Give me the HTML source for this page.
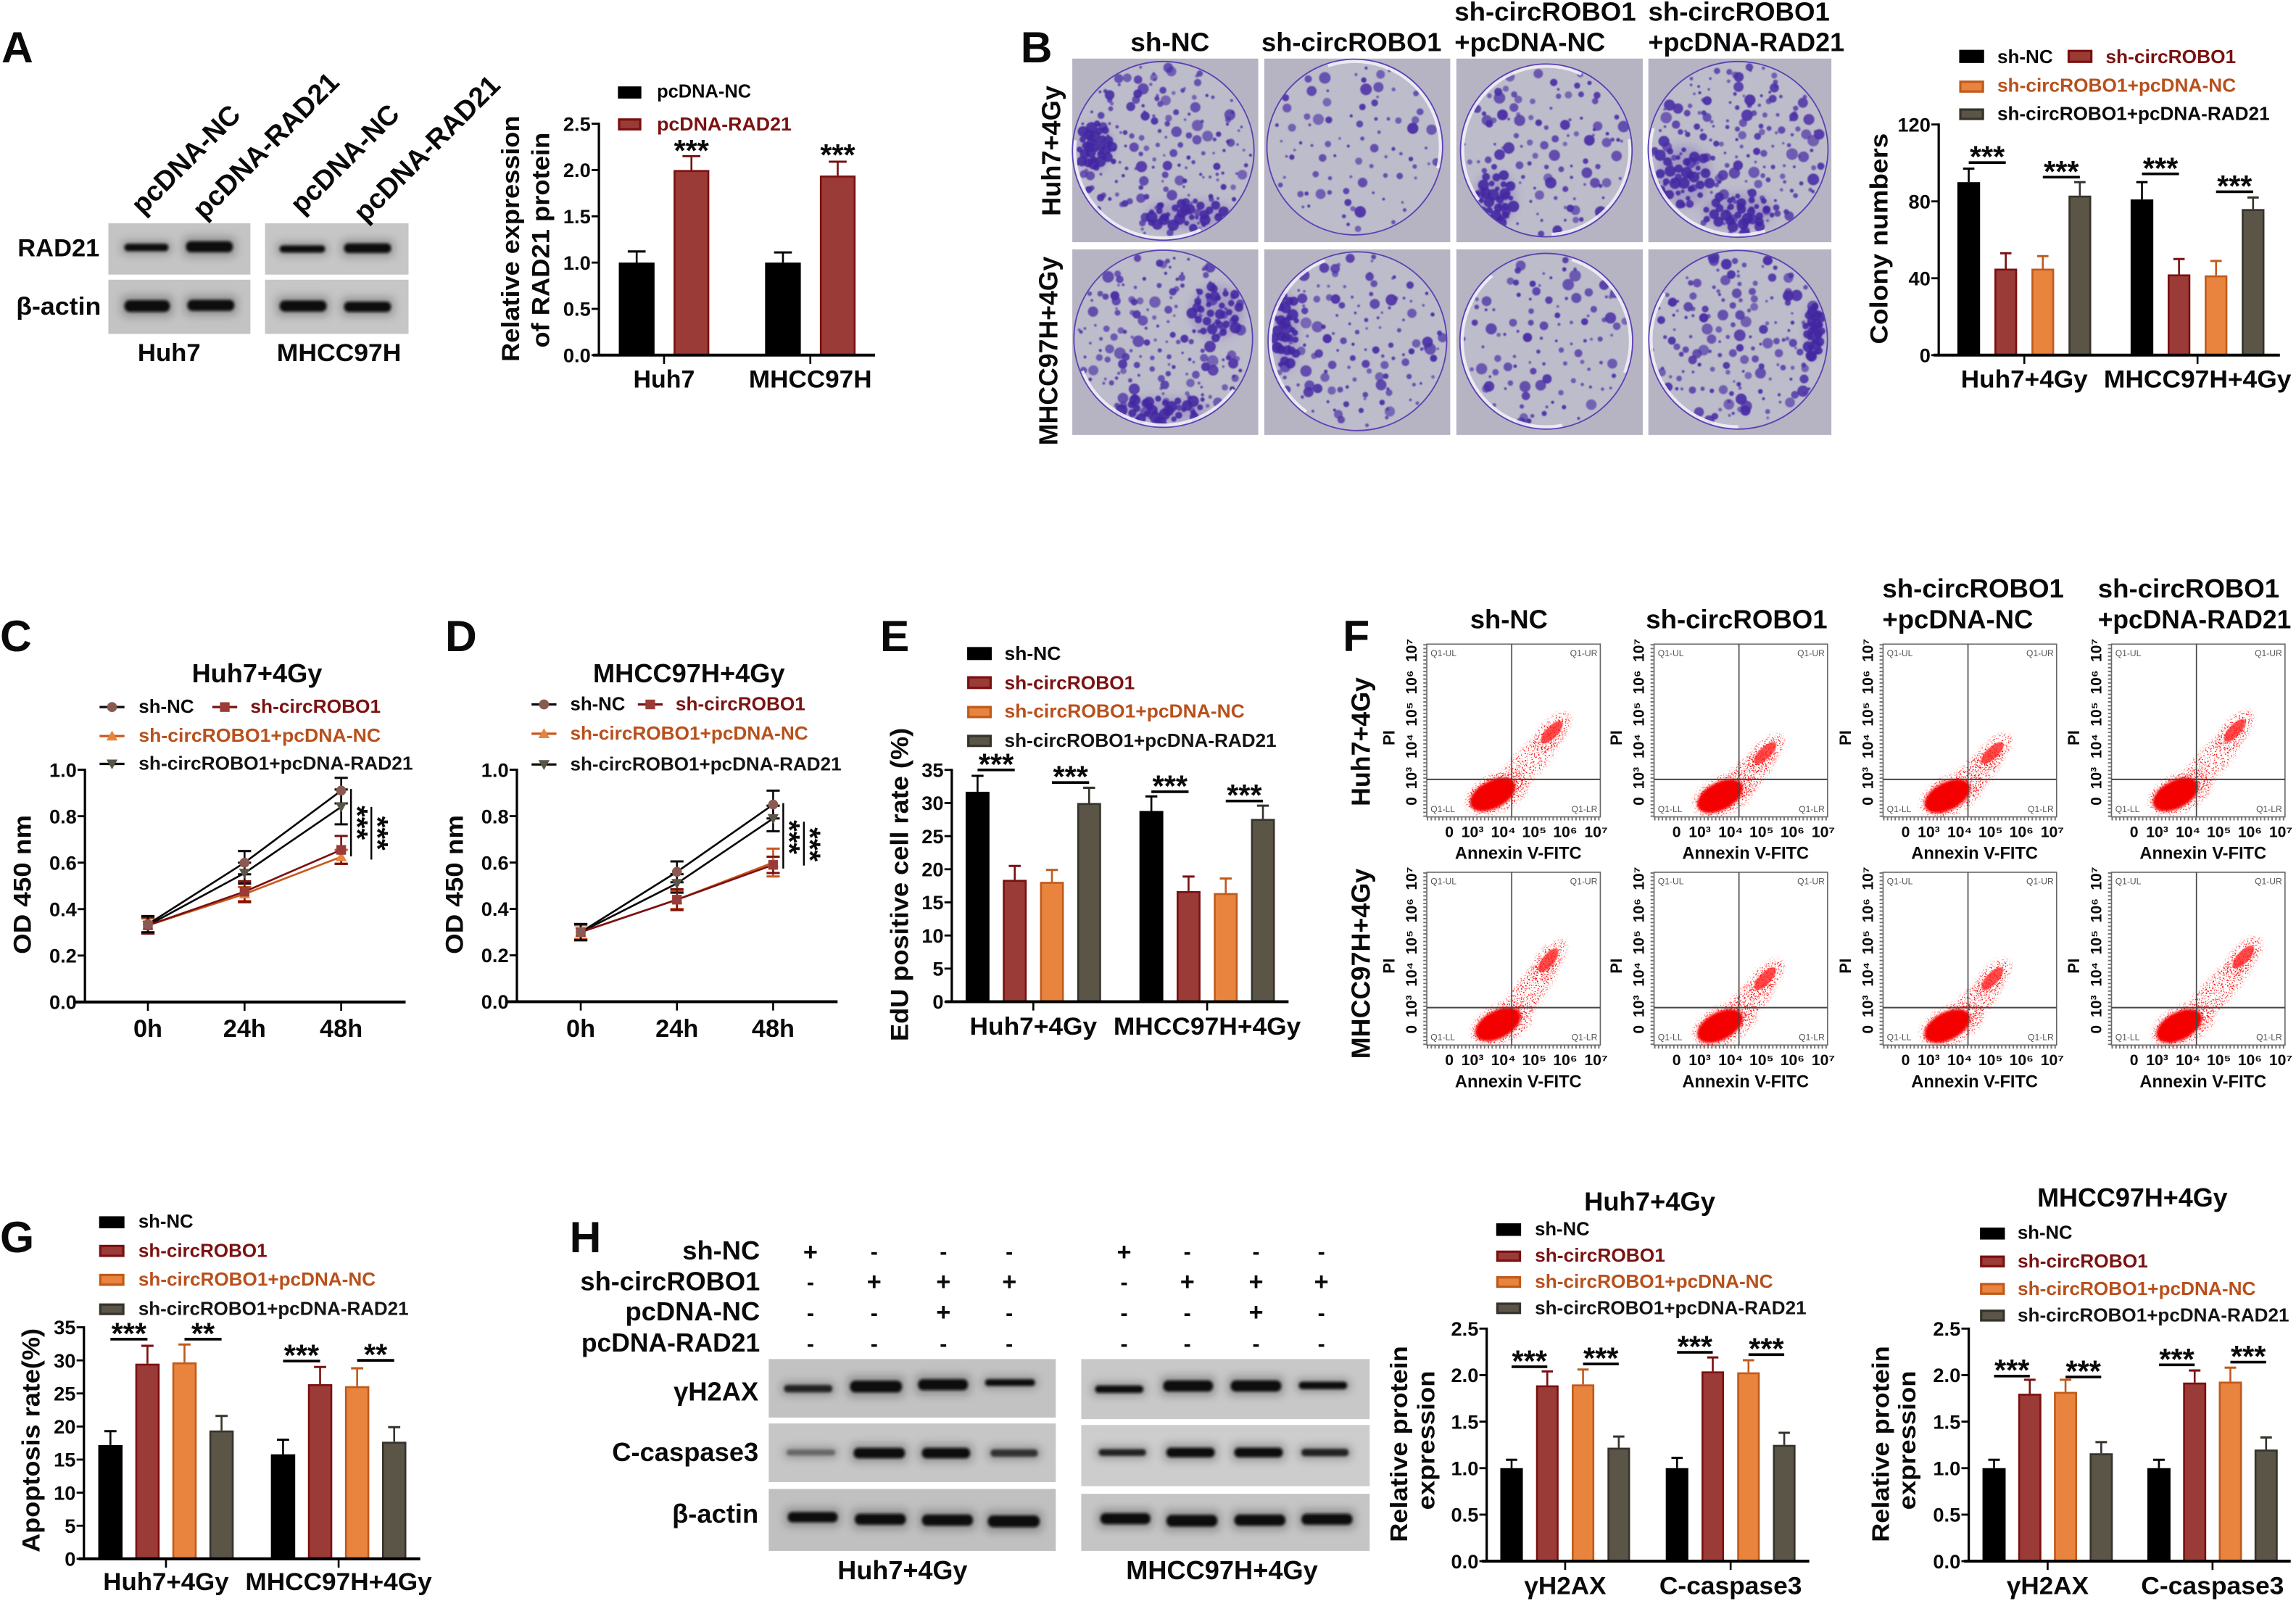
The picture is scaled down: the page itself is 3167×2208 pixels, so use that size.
<!DOCTYPE html>
<html lang="en">
<head>
<meta charset="utf-8">
<title>circROBO1 and RAD21 multi-panel figure</title>
<style>
html,body{margin:0;padding:0;background:#fff;width:3167px;height:2208px;overflow:hidden}
svg{display:block}
text{font-family:"Liberation Sans",Arial,"DejaVu Sans",sans-serif;font-weight:bold;fill:#0a0a0a}
.pl{font-size:30px}
.h18{font-size:18px}
.h17{font-size:17px}
</style>
</head>
<body>
<svg id="figure" xmlns="http://www.w3.org/2000/svg" width="3167" height="2208" viewBox="0 0 1568 1093.2">
<defs>
<filter id="soft" x="-30%" y="-60%" width="160%" height="220%"><feGaussianBlur stdDeviation="0.9"/></filter>
<filter id="halo" x="-30%" y="-150%" width="160%" height="400%"><feGaussianBlur stdDeviation="3"/></filter>
<filter id="tiny" x="-20%" y="-20%" width="140%" height="140%"><feGaussianBlur stdDeviation="0.35"/></filter>
<filter id="plateBlur" x="-30%" y="-30%" width="160%" height="160%"><feGaussianBlur stdDeviation="3"/></filter>
<filter id="speckle" x="-20%" y="-20%" width="140%" height="140%">
<feTurbulence type="fractalNoise" baseFrequency="1.1" numOctaves="1" seed="4" result="n"/>
<feColorMatrix in="n" type="matrix" values="0 0 0 0 0  0 0 0 0 0  0 0 0 0 0  0 0 0 14 -8.1" result="m"/>
<feGaussianBlur in="SourceGraphic" stdDeviation="1.5" result="s"/>
<feComposite in="s" in2="m" operator="in"/>
</filter>
</defs>

<g>
<text class="pl" x="1" y="42.5">A</text>
<text class="pl" x="697" y="42.5">B</text>
<text class="pl" x="0" y="444.5">C</text>
<text class="pl" x="304" y="444.5">D</text>
<text class="pl" x="601" y="444.5">E</text>
<text class="pl" x="917" y="444.5">F</text>
<text class="pl" x="0" y="855">G</text>
<text class="pl" x="389" y="855">H</text>
</g>

<g id="panelABlots"></g>
<g>
<text font-size="19" text-anchor="middle" transform="translate(131.4,113.4) rotate(-45)" textLength="96">pcDNA-NC</text>
<text font-size="19" text-anchor="middle" transform="translate(186,104) rotate(-45)" textLength="132">pcDNA-RAD21</text>
<text font-size="19" text-anchor="middle" transform="translate(240,113) rotate(-45)" textLength="96">pcDNA-NC</text>
<text font-size="19" text-anchor="middle" transform="translate(296,106) rotate(-45)" textLength="132">pcDNA-RAD21</text>
<text class="h17" x="12" y="175" textLength="56">RAD21</text>
<text class="h17" x="11" y="215" textLength="58">β-actin</text>
<text class="h17" x="94" y="246.5" textLength="43">Huh7</text>
<text class="h17" x="189" y="246.5" textLength="85">MHCC97H</text>
</g>
<g>
<text font-size="17" text-anchor="middle" transform="translate(354.5,163) rotate(-90)" textLength="168">Relative expression</text>
<text font-size="17" text-anchor="middle" transform="translate(375,164) rotate(-90)" textLength="147">of RAD21 protein</text>
</g>

<g id="panelBPlates"></g>
<g>
<text class="h18" x="772" y="35" textLength="54">sh-NC</text>
<text class="h18" x="861.5" y="35" textLength="123">sh-circROBO1</text>
<text class="h18" x="993.3" y="14" textLength="124">sh-circROBO1</text>
<text class="h18" x="993.3" y="35" textLength="103">+pcDNA-NC</text>
<text class="h18" x="1125.6" y="14" textLength="124">sh-circROBO1</text>
<text class="h18" x="1125.6" y="35" textLength="134">+pcDNA-RAD21</text>
<text class="h18" text-anchor="middle" transform="translate(724,103) rotate(-90)" textLength="89">Huh7+4Gy</text>
<text class="h18" text-anchor="middle" transform="translate(722,239.6) rotate(-90)" textLength="129">MHCC97H+4Gy</text>
</g>
<text font-size="17" text-anchor="middle" transform="translate(1289,163) rotate(-90)" textLength="144">Colony numbers</text>

<text class="h18" x="131" y="466" textLength="89">Huh7+4Gy</text>
<text font-size="17" text-anchor="middle" transform="translate(21,604) rotate(-90)" textLength="95">OD 450 nm</text>
<text class="h18" x="405" y="466" textLength="131">MHCC97H+4Gy</text>
<text font-size="17" text-anchor="middle" transform="translate(316,604) rotate(-90)" textLength="95">OD 450 nm</text>
<text font-size="17" text-anchor="middle" transform="translate(620,604) rotate(-90)" textLength="214">EdU positive cell rate (%)</text>

<g>
<text class="h18" x="1004" y="429" textLength="53">sh-NC</text>
<text class="h18" x="1124" y="429" textLength="124">sh-circROBO1</text>
<text class="h18" x="1285.5" y="408" textLength="124">sh-circROBO1</text>
<text class="h18" x="1285.5" y="429" textLength="103">+pcDNA-NC</text>
<text class="h18" x="1432.7" y="408" textLength="124">sh-circROBO1</text>
<text class="h18" x="1432.7" y="429" textLength="132">+pcDNA-RAD21</text>
<text class="h18" text-anchor="middle" transform="translate(935.6,506.5) rotate(-90)" textLength="88">Huh7+4Gy</text>
<text class="h18" text-anchor="middle" transform="translate(935.6,658) rotate(-90)" textLength="130">MHCC97H+4Gy</text>
</g>
<g id="panelFPlots"></g>

<text font-size="17" text-anchor="middle" transform="translate(27,983.5) rotate(-90)" textLength="153">Apoptosis rate(%)</text>

<g>
<text class="h18" text-anchor="end" x="519" y="860">sh-NC</text>
<text class="h18" text-anchor="end" x="519" y="881" textLength="122.7">sh-circROBO1</text>
<text class="h18" text-anchor="end" x="519" y="901.6">pcDNA-NC</text>
<text class="h18" text-anchor="end" x="519" y="923" textLength="122">pcDNA-RAD21</text>
<text class="h18" text-anchor="end" x="518" y="956.3">γH2AX</text>
<text class="h18" text-anchor="end" x="518" y="997.6" textLength="100">C-caspase3</text>
<text class="h18" text-anchor="end" x="518" y="1039.7">β-actin</text>
<text class="h18" x="572" y="1078.3" textLength="88.7">Huh7+4Gy</text>
<text class="h18" x="769" y="1078.3" textLength="131">MHCC97H+4Gy</text>
</g>
<g id="panelHBlots"></g>
<g id="panelHTable"></g>

<text class="h18" x="1081.9" y="826.6" textLength="89.5">Huh7+4Gy</text>
<text font-size="16.5" text-anchor="middle" transform="translate(961,986) rotate(-90)" textLength="134">Relative protein</text>
<text font-size="16.5" text-anchor="middle" transform="translate(979.5,983.5) rotate(-90)" textLength="95">expression</text>
<text class="h18" x="1391.3" y="823.8" textLength="130">MHCC97H+4Gy</text>
<text font-size="16.5" text-anchor="middle" transform="translate(1290,986) rotate(-90)" textLength="134">Relative protein</text>
<text font-size="16.5" text-anchor="middle" transform="translate(1308,983.5) rotate(-90)" textLength="95">expression</text>

<g id="charts"></g>
</svg>

<script>
/* ---------- shared names ---------- */
const seriesNames = ['sh-NC', 'sh-circROBO1', 'sh-circROBO1+pcDNA-NC', 'sh-circROBO1+pcDNA-RAD21'];
const panelANames = ['pcDNA-NC', 'pcDNA-RAD21'];

/* ---------- panel A ---------- */
const panelACats = ['Huh7', 'MHCC97H'];
const panelATicks = [0, 0.5, 1, 1.5, 2, 2.5];
const panelAMeans = [[1, 2], [1, 1.94]];
const panelATops = [[1.12, 2.15], [1.11, 2.09]];
const panelASig = [[0, 1, 1, 2.15, '***'], [1, 1, 1, 2.10, '***']];

/* ---------- panel B ---------- */
const panelBCats = ['Huh7+4Gy', 'MHCC97H+4Gy'];
const panelBTicks = [0, 40, 80, 120];
const panelBMeans = [[90, 45, 45, 83], [81, 42, 41.5, 76]];
const panelBTops = [[97, 53, 51.5, 90], [90, 50, 49, 82]];
const panelBSig = [[0, 0, 1, 100.2, '***'], [0, 2, 3, 92.6, '***'], [1, 0, 1, 94.3, '***'], [1, 2, 3, 85, '***']];

/* ---------- panel C ---------- */
const timeCats = ['0h', '24h', '48h'];
const odTicks = [0, 0.2, 0.4, 0.6, 0.8, 1];
const panelCShNC = [0.335, 0.6, 0.91];
const panelCShNCErr = [0.035, 0.05, 0.055];
const panelCCirc = [0.33, 0.475, 0.655];
const panelCCircErr = [0.035, 0.045, 0.06];
const panelCPlusNC = [0.33, 0.465, 0.625];
const panelCPlusNCErr = [0.03, 0.03, 0.03];
const panelCPlusRad = [0.33, 0.555, 0.84];
const panelCPlusRadErr = [0.035, 0.045, 0.075];
const panelCSigFrom = [0.917, 0.84];
const panelCSigTo = [0.627, 0.613];

/* ---------- panel D ---------- */
const panelDShNC = [0.3, 0.56, 0.85];
const panelDShNCErr = [0.035, 0.045, 0.06];
const panelDCirc = [0.3, 0.44, 0.59];
const panelDCircErr = [0.035, 0.045, 0.035];
const panelDPlusNC = [0.3, 0.44, 0.6];
const panelDPlusNCErr = [0.03, 0.04, 0.06];
const panelDPlusRad = [0.3, 0.51, 0.79];
const panelDPlusRadErr = [0.03, 0.04, 0.055];
const panelDSigFrom = [0.856, 0.776];
const panelDSigTo = [0.574, 0.587];

/* ---------- panel E ---------- */
const panelETicks = [0, 5, 10, 15, 20, 25, 30, 35];
const panelEMeans = [[31.7, 18.4, 18.1, 30], [28.8, 16.7, 16.4, 27.6]];
const panelETops = [[34.1, 20.5, 19.9, 32.3], [31, 18.9, 18.6, 29.6]];
const panelESig = [[0, 0, 1, 35, '***'], [0, 2, 3, 33.1, '***'], [1, 0, 1, 31.7, '***'], [1, 2, 3, 30.3, '***']];

/* ---------- panel G ---------- */
const panelGMeans = [[17.2, 29.5, 29.7, 19.4], [15.8, 26.4, 26.1, 17.7]];
const panelGTops = [[19.3, 32.2, 32.4, 21.6], [18, 29, 28.8, 19.9]];
const panelGSig = [[0, 0, 1, 33.2, '***'], [0, 2, 3, 33.2, '**'], [1, 0, 1, 29.9, '***'], [1, 2, 3, 30, '**']];

/* ---------- panel H charts ---------- */
const proteinCats = ['γH2AX', 'C-caspase3'];
const proteinTicks = [0, 0.5, 1, 1.5, 2, 2.5];
const panelH1Means = [[1, 1.89, 1.9, 1.22], [1, 2.04, 2.03, 1.25]];
const panelH1Tops = [[1.09, 2.04, 2.06, 1.34], [1.11, 2.19, 2.16, 1.38]];
const panelH1Sig = [[0, 0, 1, 2.09, '***'], [0, 2, 3, 2.12, '***'], [1, 0, 1, 2.245, '***'], [1, 2, 3, 2.22, '***']];
const panelH2Means = [[1, 1.8, 1.82, 1.16], [1, 1.92, 1.93, 1.2]];
const panelH2Tops = [[1.09, 1.95, 1.95, 1.28], [1.09, 2.05, 2.08, 1.33]];
const panelH2Sig = [[0, 0, 1, 1.99, '***'], [0, 2, 3, 1.98, '***'], [1, 0, 1, 2.11, '***'], [1, 2, 3, 2.14, '***']];

/* ---------- treatment table ---------- */
const treatmentRows = [['+', '-', '-', '-'], ['-', '+', '+', '+'], ['-', '-', '+', '-'], ['-', '-', '-', '-']];

/* ---------- flow plot labels ---------- */
const flowTickLabels = ['0', '10³', '10⁴', '10⁵', '10⁶', '10⁷'];
const flowQuadrants = ['Q1-UL', 'Q1-UR', 'Q1-LL', 'Q1-LR'];
const flowAxisX = 'Annexin V-FITC';
const flowAxisY = 'PI';

/* ---------- style ---------- */
const fills = ['#000000', '#9b3b38', '#e8843e', '#5a5547'];
const strokes = ['#000000', '#7a1010', '#c05a1c', '#35332b'];
const labelColors = ['#0a0a0a', '#7a1212', '#b8501c', '#141414'];
const lineColors = ['#0a0a0a', '#7a1010', '#c8581c', '#0a0a0a'];
const markerColors = ['#8a5a52', '#9b3b38', '#e8843e', '#5a5547'];

const NS = 'http://www.w3.org/2000/svg';
function mk(tag, attrs, name, parent) {
  const node = document.createElementNS(NS, tag);
  for (const k in attrs) node.setAttribute(k, attrs[k]);
  
  
  parent.appendChild(node);
  return node;
}
function txt(str, attrs, name, parent) {
  const node = mk('text', attrs, name, parent);
  node.textContent = str;
  return node;
}
function ln(x1, y1, x2, y2, color, w, name, parent) {
  return mk('line', {x1: x1, y1: y1, x2: x2, y2: y2, stroke: color, 'stroke-width': w}, name, parent);
}

/* ---------- axis pieces ---------- */
function yAxis(g, c, yOf) {
  ln(c.x0, c.yTop - 0.7, c.x0, c.yBot, '#000', 1.6, 'y-axis-line', g);
  c.ticks.forEach(function (t) {
    ln(c.x0 - 5, yOf(t), c.x0, yOf(t), '#000', 1.4, 'y-axis-tick', g);
    txt(t.toFixed(c.digits), {x: c.x0 - 5.6, y: yOf(t) + 4.8, 'text-anchor': 'end', 'font-size': 13.5}, 'y-tick-label', g);
  });
}
function stars(g, label, cx, lineY) {
  txt(label, {x: cx, y: lineY + 3.2, 'text-anchor': 'middle', 'font-size': 20.5}, 'significance-stars', g);
}

/* ---------- grouped bar chart ---------- */
function barChart(c) {
  const g = mk('g', {}, c.name, document.getElementById('charts'));
  const yOf = function (v) { return c.yBot - (v / c.vmax) * (c.yBot - c.yTop); };
  const xOf = function (gi, i) { return c.first + gi * c.gap + i * c.step; };
  c.means.forEach(function (vals, gi) {
    vals.forEach(function (v, i) {
      const color = c.colors ? c.colors[i] : i;
      const x = xOf(gi, i);
      mk('rect', {x: x - c.bw / 2 + 0.65, y: yOf(v) + 0.65, width: c.bw - 1.3, height: c.yBot - yOf(v) - 0.65, fill: fills[color], stroke: strokes[color], 'stroke-width': 1.3}, 'bar', g);
      const top = yOf(c.tops[gi][i]);
      ln(x, yOf(v), x, top, strokes[color], 1.3, 'error-bar', g);
      ln(x - c.bw / 4, top, x + c.bw / 4, top, strokes[color], 1.5, 'error-bar-cap', g);
    });
  });
  yAxis(g, c, yOf);
  ln(c.axL, c.yBot, c.axR, c.yBot, '#000', 2, 'x-axis-line', g);
  c.cats.forEach(function (cat, gi) {
    const n = c.means[gi].length;
    const cx = (xOf(gi, 0) + xOf(gi, n - 1)) / 2;
    ln(cx, c.yBot, cx, c.yBot + 6, '#000', 1.3, 'x-axis-tick', g);
    txt(cat, {x: cx, y: c.catY, 'text-anchor': 'middle', 'font-size': 17, textLength: c.catW[gi]}, 'x-category-label', g);
  });
  c.sig.forEach(function (s) {
    const y = yOf(s[3]);
    const a = xOf(s[0], s[1]);
    const b = xOf(s[0], s[2]);
    if (s[1] !== s[2]) ln(a, y, b, y, '#000', 1.8, 'significance-bar', g);
    stars(g, s[4], (a + b) / 2, y);
  });
}

/* ---------- line chart ---------- */
function lineChart(c) {
  const g = mk('g', {}, c.name, document.getElementById('charts'));
  const yOf = function (v) { return c.yBot - (v / c.vmax) * (c.yBot - c.yTop); };
  const xOf = function (i) { return c.firstX + i * c.dx; };
  const order = [3, 2, 1, 0];
  order.forEach(function (si) {
    const vals = c.series[si];
    vals.forEach(function (v, i) {
      const x = xOf(i);
      const e = c.errors[si][i];
      const col = si === 0 || si === 3 ? '#0a0a0a' : lineColors[si];
      ln(x, yOf(v - e), x, yOf(v + e), col, 1.3, 'error-bar', g);
      ln(x - 4.5, yOf(v + e), x + 4.5, yOf(v + e), col, 1.5, 'error-bar-cap', g);
      ln(x - 4.5, yOf(v - e), x + 4.5, yOf(v - e), col, 1.5, 'error-bar-cap', g);
    });
    const pts = vals.map(function (v, i) { return xOf(i) + ',' + yOf(v); }).join(' ');
    mk('polyline', {points: pts, fill: 'none', stroke: lineColors[si], 'stroke-width': 1.3}, 'series-line', g);
  });
  order.forEach(function (si) {
    c.series[si].forEach(function (v, i) { marker(g, si, xOf(i), yOf(v)); });
  });
  yAxis(g, c, yOf);
  ln(c.axL, c.yBot, c.axR, c.yBot, '#000', 2, 'x-axis-line', g);
  c.cats.forEach(function (cat, i) {
    ln(xOf(i), c.yBot, xOf(i), c.yBot + 6, '#000', 1.3, 'x-axis-tick', g);
    txt(cat, {x: xOf(i), y: c.catY, 'text-anchor': 'middle', 'font-size': 17}, 'x-category-label', g);
  });
  c.sigFrom.forEach(function (from, i) {
    const x = c.sigX + i * c.sigDx;
    const y1 = yOf(from);
    const y2 = yOf(c.sigTo[i]);
    ln(x, y1, x, y2, '#000', 1.2, 'significance-bar', g);
    const cy = y1 + (y2 - y1) * c.sigStarPos;
    txt('***', {'text-anchor': 'middle', 'font-size': 20, transform: 'translate(' + (x - 2.6) + ',' + cy + ') rotate(90)'}, 'significance-stars', g);
  });
}
function marker(g, si, x, y) {
  const f = markerColors[si];
  if (si === 0) mk('circle', {cx: x, cy: y, r: 3.4, fill: f}, 'marker-circle', g);
  if (si === 1) mk('rect', {x: x - 3.3, y: y - 3.3, width: 6.6, height: 6.6, fill: f}, 'marker-square', g);
  if (si === 2) mk('polygon', {points: (x - 3.8) + ',' + (y + 3) + ' ' + (x + 3.8) + ',' + (y + 3) + ' ' + x + ',' + (y - 3.8), fill: f}, 'marker-triangle', g);
  if (si === 3) mk('polygon', {points: (x - 3.8) + ',' + (y - 3) + ' ' + (x + 3.8) + ',' + (y - 3) + ' ' + x + ',' + (y + 3.8), fill: f}, 'marker-triangle-down', g);
}

/* ---------- legends ---------- */
function legendSwatch(g, si, x, y, w, h) {
  mk('rect', {x: x + 0.8, y: y + 0.8, width: w - 1.6, height: h - 1.6, fill: fills[si], stroke: strokes[si], 'stroke-width': 1.6}, 'legend-swatch', g);
}
function barLegend(name, names, colors, rows) {
  const g = mk('g', {}, name, document.getElementById('charts'));
  rows.forEach(function (r, i) {
    legendSwatch(g, colors[i], r[0], r[1], r[2], r[3]);
    txt(names[i], {x: r[4], y: r[5], 'font-size': 13, textLength: r[6], style: 'fill:' + labelColors[colors[i]]}, 'legend-entry', g);
  });
}
function lineLegend(name, rows) {
  const g = mk('g', {}, name, document.getElementById('charts'));
  rows.forEach(function (r, i) {
    ln(r[0], r[1], r[0] + 17, r[1], lineColors[i], 1.6, 'legend-line', g);
    marker(g, i, r[0] + 8.5, r[1]);
    txt(seriesNames[i], {x: r[2], y: r[3], 'font-size': 13, textLength: r[4], style: 'fill:' + labelColors[i]}, 'legend-entry', g);
  });
}

/* ---------- blot images ---------- */
function blot(parent, x, y, w, h, bands, tone, name) {
  const g = mk('g', {}, name, parent);
  mk('rect', {x: x, y: y, width: w, height: h, fill: tone}, 'blot-background', g);
  bands.forEach(function (b) {
    mk('rect', {x: b[0] - 2, y: b[2] - b[3] * 0.9, width: b[1] - b[0] + 4, height: b[3] * 1.8, rx: 3, fill: '#555', opacity: 0.45, filter: 'url(#halo)'}, 'band-halo', g);
    mk('rect', {x: b[0], y: b[2] - b[3] / 2, width: b[1] - b[0], height: b[3], rx: b[3] / 2.2, fill: b[4] || '#0c0c0c', filter: 'url(#soft)'}, 'band', g);
  });
}
const blotsA = document.getElementById('panelABlots');
blot(blotsA, 74, 152.5, 97, 35, [[85, 115, 169, 5], [127, 159, 168.5, 7.5]], '#c4c4c4', 'blot-rad21-huh7');
blot(blotsA, 181, 152.5, 98, 35, [[191, 222, 170, 4.8], [235, 267, 169.5, 6.5]], '#c6c6c6', 'blot-rad21-mhcc97h');
blot(blotsA, 74, 191, 97, 37, [[85, 116, 209, 8], [128, 160, 208.5, 7.5]], '#c3c3c3', 'blot-actin-huh7');
blot(blotsA, 181, 191, 98, 37, [[191, 223, 209, 7.5], [235, 267, 209.5, 7]], '#c6c6c6', 'blot-actin-mhcc97h');

const blotsH = document.getElementById('panelHBlots');
blot(blotsH, 525, 928, 196, 40, [[535.5, 568.4, 948.2, 5, '#222'], [580.5, 616, 946.8, 8], [627, 661, 945.5, 7.5], [672.8, 706.8, 944.1, 4.5]], '#c2c2c2', 'blot-gamma-h2ax-huh7');
blot(blotsH, 738.4, 928, 197, 41, [[747.9, 780.8, 948.6, 5], [794.4, 828.4, 946.4, 7.5], [840.5, 875, 946.4, 7.5], [887, 920, 946, 5]], '#c8c8c8', 'blot-gamma-h2ax-mhcc97h');
blot(blotsH, 525, 972, 196, 40, [[537.3, 570.3, 991.8, 3.8, '#666'], [583, 618, 992.2, 7], [629.6, 662.5, 992.2, 7], [676.5, 708.7, 992.2, 5, '#333']], '#c6c6c6', 'blot-caspase3-huh7');
blot(blotsH, 738.4, 973, 197, 41.8, [[750.4, 782.6, 991.8, 4.5, '#222'], [796.6, 829.5, 991.8, 6.5], [843, 876, 991.8, 6.5], [888.8, 921, 991.8, 5, '#222']], '#cdcdcd', 'blot-caspase3-mhcc97h');
blot(blotsH, 525, 1016.7, 196, 42.3, [[538, 572, 1036, 7], [583.8, 618.6, 1037.4, 7.5], [629.6, 664.4, 1038, 7.5], [674.6, 710, 1038.8, 8]], '#c0c0c0', 'blot-actin-huh7');
blot(blotsH, 738.4, 1020, 197, 39, [[751.5, 785.6, 1037, 7.5], [796.6, 831.4, 1038.4, 8], [843, 877.8, 1038, 7.5], [888.8, 923.6, 1037.4, 7.5]], '#c5c5c5', 'blot-actin-mhcc97h');

/* ---------- treatment table ---------- */
(function () {
  const g = document.getElementById('panelHTable');
  const colStep = [0, 43.5, 90.8, 135.8];
  const groupX = [553.5, 767.7];
  const plusY = [854.6, 874.9, 895.8, 916];
  const dashY = [855.8, 876.5, 897.6, 918.6];
  groupX.forEach(function (gx) {
    treatmentRows.forEach(function (row, ri) {
      row.forEach(function (sign, ci) {
        const plus = sign === '+';
        txt(sign, {x: gx + colStep[ci] * (gx > 700 ? 0.992 : 1), y: plus ? plusY[ri] + 5.8 : dashY[ri] + 4, 'text-anchor': 'middle', 'font-size': plus ? 17 : 15}, plus ? 'treatment-plus' : 'treatment-minus', g);
      });
    });
  });
})();

/* ---------- colony plates (photographic texture, not chart data) ---------- */
(function () {
  const parent = document.getElementById('panelBPlates');
  const colX = [732.3, 863.4, 994.6, 1125.7];
  const colW = [127, 127, 127.3, 125];
  const rowY = [40, 170.3];
  const rowH = [125.4, 126.7];
  const centers = [[[794.4, 103, 62, 61], [925.2, 100.4, 60, 60], [1056, 102.7, 58.6, 59], [1187, 102, 61.4, 60]],
                   [[794.4, 231.3, 61, 60.5], [927, 233, 61, 61], [1056, 233, 59, 60], [1187, 232, 61, 61]]];
  const density = [[175, 85, 115, 185], [175, 135, 105, 165]];
  const clusters = [[[[-.75, -.05, .2, .26], [.3, .72, .5, .16]], [], [[-.6, .55, .25, .3]], [[-.6, .3, .3, .35], [0, .7, .4, .2]]],
                    [[[.6, -.3, .3, .3], [0, .8, .5, .14]], [[-.8, -.1, .14, .45]], [], [[.85, -.1, .1, .3]]]];
  const rimStart = [[18, 70, 40, 20], [10, 35, 22, 25]];
  const rimGap = [[66, 66, 16, 66], [66, 66, 16, 66]];
  let idx = 0;
  rowY.forEach(function (y, r) {
    colX.forEach(function (x, c) {
      idx++;
      const g = mk('g', {}, 'colony-plate-r' + (r + 1) + '-c' + (c + 1), parent);
      const e = centers[r][c];
      mk('rect', {x: x, y: y, width: colW[c], height: rowH[r], fill: '#b6b4c3'}, 'plate-background', g);
      mk('ellipse', {cx: e[0], cy: e[1], rx: e[2], ry: e[3], fill: '#bdbccb'}, 'plate-well', g);
      const clipId = 'clip' + idx;
      const defs = mk('clipPath', {id: clipId}, 'plate-clip', g);
      mk('ellipse', {cx: e[0], cy: e[1], rx: e[2], ry: e[3]}, 'plate-clip-shape', defs);
      const spots = mk('g', {'clip-path': 'url(#' + clipId + ')'}, 'colonies', g);
      clusters[r][c].forEach(function (k) {
        mk('ellipse', {cx: e[0] + k[0] * e[2], cy: e[1] + k[1] * e[3], rx: k[2] * e[2], ry: k[3] * e[3], fill: '#6a50b4', opacity: 0.28, filter: 'url(#plateBlur)'}, 'colony-cluster-haze', spots);
      });
      const inner = mk('g', {filter: 'url(#tiny)'}, 'colony-spots', spots);
      const seed = idx * 1.37;
      const n = density[r][c];
      for (let k = 0; k < n; k++) {
        const h = Math.abs(Math.sin(k * 12.9898 + seed * 78.233) * 43758.5453) % 1;
        const h2 = Math.abs(Math.sin(k * 39.346 + seed * 11.135) * 24634.6345) % 1;
        const a = k * 2.39996 + seed + h2 * 0.6;
        const rad = Math.sqrt((k + 0.5) / n) * 0.97;
        const rr = 0.9 + h * h * 3.1;
        mk('circle', {cx: e[0] + e[2] * rad * Math.cos(a), cy: e[1] + e[3] * rad * Math.sin(a), r: rr, fill: '#4a2fa6', opacity: 0.6 + h2 * 0.38}, 'colony', inner);
      }
      clusters[r][c].forEach(function (k, ki) {
        for (let j = 0; j < 26; j++) {
          const h = Math.abs(Math.sin(j * 17.17 + ki * 5.1 + seed * 31.7) * 13758.5453) % 1;
          const a = j * 2.39996 + seed;
          const rad = Math.sqrt((j + 0.5) / 26);
          mk('circle', {cx: e[0] + (k[0] + k[2] * rad * Math.cos(a)) * e[2], cy: e[1] + (k[1] + k[3] * rad * Math.sin(a)) * e[3], r: 1.6 + h * 2.4, fill: '#4428a2', opacity: 0.9}, 'colony', inner);
        }
      });
      mk('ellipse', {cx: e[0], cy: e[1], rx: e[2] - 1.2, ry: e[3] - 1.2, fill: 'none', stroke: '#f0eef7', 'stroke-width': 2.8, pathLength: 100, 'stroke-dasharray': (100 - rimGap[r][c]) / (rimGap[r][c] === 16 ? 2 : 1) + ' ' + rimGap[r][c], 'stroke-dashoffset': -rimStart[r][c], opacity: 0.9}, 'plate-rim-glare', g);
      mk('ellipse', {cx: e[0], cy: e[1], rx: e[2], ry: e[3], fill: 'none', stroke: '#5d40b4', 'stroke-width': 0.9}, 'plate-rim', g);
    });
  });
})();

/* ---------- flow plots (density impression) ---------- */
(function () {
  const parent = document.getElementById('panelFPlots');
  const colX = [974.4, 1129.6, 1286, 1442];
  const rowY = [439.8, 595.6];
  const W = 118.5, H = 118;
  const upper = [[[.72, .51], [.64, .63], [.63, .63], [.71, .50]], [[.70, .51], [.64, .615], [.63, .615], [.76, .49]]];
  const lower = [[[.38, .87], [.38, .88], [.37, .88], [.37, .87]], [[.41, .88], [.38, .89], [.37, .89], [.39, .89]]];
  rowY.forEach(function (y, r) {
    colX.forEach(function (x, c) {
      const g = mk('g', {}, 'flow-plot-r' + (r + 1) + '-c' + (c + 1), parent);
      mk('rect', {x: x, y: y, width: W, height: H, fill: '#fff', stroke: '#666', 'stroke-width': 0.8}, 'plot-frame', g);
      ln(x, y + H + 1.3, x + W, y + H + 1.3, '#777', 2.2, 'x-tick-strip', g).setAttribute('stroke-dasharray', '1 1.6');
      ln(x - 1.3, y, x - 1.3, y + H, '#777', 2.2, 'y-tick-strip', g).setAttribute('stroke-dasharray', '1 1.6');
      const ux = x + upper[r][c][0] * W, uy = y + upper[r][c][1] * H;
      const lx = x + lower[r][c][0] * W, ly = y + lower[r][c][1] * H;
      const angle = Math.atan2(uy - ly, ux - lx) * 180 / Math.PI;
      const dist = Math.hypot(ux - lx, uy - ly);
      const mx = (ux + lx) / 2 + 2, my = (uy + ly) / 2 + 2;
      mk('ellipse', {cx: mx, cy: my, rx: dist * 0.62, ry: 10, fill: '#ff0000', transform: 'rotate(' + angle + ' ' + mx + ' ' + my + ')', filter: 'url(#speckle)'}, 'sparse-events', g);
      mk('ellipse', {cx: lx + 3, cy: ly - 1, rx: 23, ry: 13, fill: '#ff0000', transform: 'rotate(-25 ' + (lx + 3) + ' ' + (ly - 1) + ')', filter: 'url(#speckle)'}, 'live-cell-halo', g);
      mk('ellipse', {cx: ux, cy: uy, rx: 17, ry: 8, fill: '#ff0000', transform: 'rotate(' + angle + ' ' + ux + ' ' + uy + ')', filter: 'url(#speckle)'}, 'late-apoptosis-halo', g);
      mk('ellipse', {cx: ux, cy: uy, rx: 10, ry: 4, fill: '#ff2020', opacity: 0.8, transform: 'rotate(' + angle + ' ' + ux + ' ' + uy + ')', filter: 'url(#tiny)'}, 'late-apoptosis-cluster', g);
      mk('ellipse', {cx: lx, cy: ly, rx: 17, ry: 9.5, fill: '#f40000', transform: 'rotate(-28 ' + lx + ' ' + ly + ')', filter: 'url(#soft)'}, 'live-cell-cluster', g);
      ln(x + 58, y, x + 58, y + H, '#444', 0.8, 'quadrant-line-vertical', g);
      ln(x, y + 92.4, x + W, y + 92.4, '#444', 1, 'quadrant-line-horizontal', g);
      const qStyle = {'font-size': 6, style: 'fill:#555;font-weight:normal'};
      txt(flowQuadrants[0], Object.assign({x: x + 2.6, y: y + 8.2}, qStyle), 'quadrant-label', g);
      txt(flowQuadrants[1], Object.assign({x: x + W - 2, y: y + 8.2, 'text-anchor': 'end'}, qStyle), 'quadrant-label', g);
      txt(flowQuadrants[2], Object.assign({x: x + 2.6, y: y + 114.7}, qStyle), 'quadrant-label', g);
      txt(flowQuadrants[3], Object.assign({x: x + W - 2, y: y + 114.7, 'text-anchor': 'end'}, qStyle), 'quadrant-label', g);
      flowTickLabels.forEach(function (lab, i) {
        const tx = i === 0 ? 15.4 : 31.2 + (i - 1) * 21.1;
        const ty = i === 0 ? 107.3 : 91.5 - (i - 1) * 21.8;
        txt(lab, {x: x + tx, y: y + H + 13.8, 'text-anchor': 'middle', 'font-size': 10.5}, 'x-tick-label', g);
        txt(lab, {'text-anchor': 'middle', 'font-size': 10.5, transform: 'translate(' + (x - 7) + ',' + (y + ty) + ') rotate(-90)'}, 'y-tick-label', g);
      });
      txt(flowAxisX, {x: x + 62.5, y: y + H + 28.7, 'text-anchor': 'middle', 'font-size': 12, textLength: 86.5}, 'x-axis-title', g);
      txt(flowAxisY, {'text-anchor': 'middle', 'font-size': 11, transform: 'translate(' + (x - 22) + ',' + (y + 64) + ') rotate(-90)'}, 'y-axis-title', g);
    });
  });
})();

/* ---------- draw charts ---------- */
barChart({name: 'panel-a-bar-chart', x0: 409, axL: 405, axR: 597.6, yTop: 84.5, yBot: 242.5, vmax: 2.5, digits: 1, ticks: panelATicks, cats: panelACats, catW: [42, 84], catY: 264.7, means: panelAMeans, tops: panelATops, sig: panelASig, first: 434.8, step: 37.4, gap: 99.9, bw: 24.4, colors: [0, 1]});
barLegend('panel-a-legend', panelANames, [0, 1], [[422, 59, 16, 8.3, 448.6, 66.7, 64.4], [422, 80.8, 16, 8.3, 448.6, 89, 92]]);

barChart({name: 'panel-b-bar-chart', x0: 1324, axL: 1320.5, axR: 1557, yTop: 85, yBot: 242.5, vmax: 120, digits: 0, ticks: panelBTicks, cats: panelBCats, catW: [86.6, 128], catY: 264.7, means: panelBMeans, tops: panelBTops, sig: panelBSig, first: 1344.5, step: 25.3, gap: 118.3, bw: 15.5});
(function () {
  const g = mk('g', {}, 'panel-b-legend', document.getElementById('charts'));
  legendSwatch(g, 0, 1338, 34, 17, 9);
  txt(seriesNames[0], {x: 1364, y: 43, 'font-size': 13, textLength: 38}, 'legend-entry', g);
  legendSwatch(g, 1, 1412, 34, 17, 9);
  txt(seriesNames[1], {x: 1438, y: 43, 'font-size': 13, textLength: 89, style: 'fill:' + labelColors[1]}, 'legend-entry', g);
  legendSwatch(g, 2, 1338, 55, 17, 8.3);
  txt(seriesNames[2], {x: 1364, y: 62.7, 'font-size': 13, textLength: 163, style: 'fill:' + labelColors[2]}, 'legend-entry', g);
  legendSwatch(g, 3, 1338, 74, 17, 8);
  txt(seriesNames[3], {x: 1364, y: 82, 'font-size': 13, textLength: 186}, 'legend-entry', g);
})();

lineChart({name: 'panel-c-line-chart', x0: 58, axL: 51, axR: 277, yTop: 525.6, yBot: 684.2, vmax: 1, digits: 1, ticks: odTicks, cats: timeCats, catY: 708, firstX: 101, dx: 66,
  series: [panelCShNC, panelCCirc, panelCPlusNC, panelCPlusRad],
  errors: [panelCShNCErr, panelCCircErr, panelCPlusNCErr, panelCPlusRadErr],
  sigFrom: panelCSigFrom, sigTo: panelCSigTo, sigX: 239.7, sigDx: 13.9, sigStarPos: 0.5});
lineLegend('panel-c-legend', [[68, 482.8, 94.7, 486.8, 37.8], [145, 482.8, 171, 486.8, 89], [68, 502.6, 94.7, 506.4, 165.3], [68, 521.6, 94.7, 525.6, 187.3]]);

lineChart({name: 'panel-d-line-chart', x0: 353, axL: 346.6, axR: 572, yTop: 525.6, yBot: 684, vmax: 1, digits: 1, ticks: odTicks, cats: timeCats, catY: 708, firstX: 396.6, dx: 65.7,
  series: [panelDShNC, panelDCirc, panelDPlusNC, panelDPlusRad],
  errors: [panelDShNCErr, panelDCircErr, panelDPlusNCErr, panelDPlusRadErr],
  sigFrom: panelDSigFrom, sigTo: panelDSigTo, sigX: 534.9, sigDx: 14.1, sigStarPos: 0.52});
lineLegend('panel-d-legend', [[363, 481, 389.4, 485, 37.6], [435.6, 481, 461.4, 485, 88.6], [363, 501, 389.4, 505, 162.5], [363, 522, 389.4, 526, 185.2]]);

barChart({name: 'panel-e-bar-chart', x0: 650, axL: 645.6, axR: 880, yTop: 525.7, yBot: 684, vmax: 35, digits: 0, ticks: panelETicks, cats: panelBCats, catW: [87, 128], catY: 706.6, means: panelEMeans, tops: panelETops, sig: panelESig, first: 667.6, step: 25.4, gap: 118.7, bw: 16.3});
barLegend('panel-e-legend', seriesNames, [0, 1, 2, 3], [[660.5, 441.8, 16.8, 8.9, 686, 450.6, 38.5], [660.5, 461.7, 16.8, 8.8, 686, 470.5, 89], [660.5, 482, 16.8, 8.4, 686, 490, 164], [660.5, 501.7, 16.8, 8.4, 686, 510, 185.7]]);

barChart({name: 'panel-g-bar-chart', x0: 57.3, axL: 53.8, axR: 287, yTop: 906.3, yBot: 1064.4, vmax: 35, digits: 0, ticks: panelETicks, cats: panelBCats, catW: [85.8, 127.4], catY: 1085.7, means: panelGMeans, tops: panelGTops, sig: panelGSig, first: 75.4, step: 25.3, gap: 117.9, bw: 16.6});
barLegend('panel-g-legend', seriesNames, [0, 1, 2, 3], [[67.7, 830.5, 17.3, 8.2, 94.5, 838.3, 37.5], [67.7, 850, 17.3, 8.3, 94.5, 858.3, 88], [67.7, 869.8, 17.3, 8.2, 94.5, 877.9, 162], [67.7, 890, 17.3, 8, 94.5, 898, 184.5]]);

barChart({name: 'panel-h-huh7-bar-chart', x0: 1015.3, axL: 1012, axR: 1235.6, yTop: 907.2, yBot: 1066, vmax: 2.5, digits: 1, ticks: proteinTicks, cats: proteinCats, catW: [56, 97.3], catY: 1088.6, means: panelH1Means, tops: panelH1Tops, sig: panelH1Sig, first: 1032.3, step: 24.4, gap: 113, bw: 15.4});
barLegend('panel-h-huh7-legend', seriesNames, [0, 1, 2, 3], [[1021.8, 835.3, 17, 8.6, 1048.2, 843.5, 37.4], [1021.8, 853.9, 17, 7.7, 1048.2, 861.6, 89], [1021.8, 871.4, 17, 8, 1048.2, 879.4, 162.6], [1021.8, 889.4, 17, 7.9, 1048.2, 897.3, 185.4]]);

barChart({name: 'panel-h-mhcc97h-bar-chart', x0: 1344.5, axL: 1341.3, axR: 1564.4, yTop: 907.2, yBot: 1066, vmax: 2.5, digits: 1, ticks: proteinTicks, cats: proteinCats, catW: [56, 97.6], catY: 1088.6, means: panelH2Means, tops: panelH2Tops, sig: panelH2Sig, first: 1361.8, step: 24.4, gap: 112.6, bw: 15.8});
barLegend('panel-h-mhcc97h-legend', seriesNames, [0, 1, 2, 3], [[1352.2, 838.2, 17, 8.2, 1377.9, 846, 37.4], [1352.2, 857.3, 17, 8.1, 1377.9, 865.4, 89], [1352.2, 876, 17, 8.2, 1377.9, 884.2, 162.6], [1352.2, 894.2, 17, 8.2, 1377.9, 902.4, 185.4]]);

document.querySelectorAll('text[textLength]').forEach(function (t) {
  t.setAttribute('lengthAdjust', 'spacingAndGlyphs');
});
</script>
</body>
</html>
